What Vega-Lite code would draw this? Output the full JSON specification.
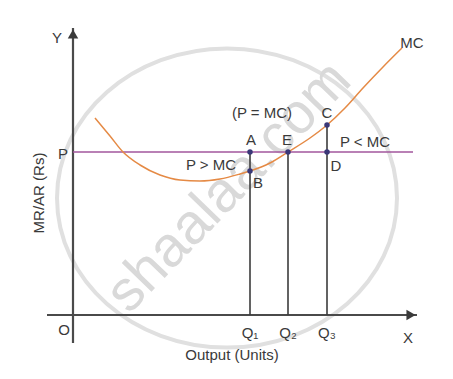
{
  "$schema": "https://vega.github.io/schema/vega-lite/v6.json",
  "width": 453,
  "height": 379,
  "padding": 0,
  "autosize": "none",
  "background": "white",
  "config": {"view": {"stroke": null}},
  "datasets": {
    "mc": [
      {"q": 2.2, "c": 19.7}, {"q": 3.7, "c": 17.9}, {"q": 5.0, "c": 16.3}, {"q": 6.7, "c": 15.0},
      {"q": 8.7, "c": 14.0}, {"q": 10.7, "c": 13.5}, {"q": 12.7, "c": 13.4}, {"q": 14.7, "c": 13.6},
      {"q": 16.7, "c": 14.1}, {"q": 17.7, "c": 14.4}, {"q": 19.7, "c": 15.2}, {"q": 21.5, "c": 16.3},
      {"q": 23.7, "c": 17.7}, {"q": 25.4, "c": 19.0}, {"q": 27.2, "c": 20.7}, {"q": 29.0, "c": 22.7},
      {"q": 31.0, "c": 24.8}, {"q": 32.9, "c": 26.7}
    ],
    "axes": [
      {"x1": -2.6, "x2": 34.4, "y1": 0, "y2": 0},
      {"x1": 0, "x2": 0, "y1": -2.8, "y2": 28.7}
    ],
    "drops": [
      {"q": 17.7, "bottom": 0, "top": 16.3},
      {"q": 21.5, "bottom": 0, "top": 16.3},
      {"q": 25.4, "bottom": 0, "top": 19.0}
    ],
    "dots": [
      {"q": 17.7, "v": 16.3, "name": "A"},
      {"q": 17.7, "v": 14.4, "name": "B"},
      {"q": 21.5, "v": 16.3, "name": "E"},
      {"q": 25.4, "v": 19.0, "name": "C"},
      {"q": 25.4, "v": 16.3, "name": "D"}
    ],
    "labels": [
      {"x": -1.6, "y": 27.7, "t": "Y"},
      {"x": 33.9, "y": 27.2, "t": "MC"},
      {"x": 18.9, "y": 20.2, "t": "(P = MC)"},
      {"x": 25.4, "y": 20.2, "t": "C"},
      {"x": 17.8, "y": 17.5, "t": "A"},
      {"x": 21.4, "y": 17.5, "t": "E"},
      {"x": 29.2, "y": 17.3, "t": "P < MC"},
      {"x": -1.0, "y": 16.1, "t": "P"},
      {"x": 13.8, "y": 15.0, "t": "P > MC"},
      {"x": 18.5, "y": 13.2, "t": "B"},
      {"x": 26.3, "y": 14.9, "t": "D"},
      {"x": -0.9, "y": -1.5, "t": "O"},
      {"x": 17.7, "y": -1.8, "t": "Q₁"},
      {"x": 21.5, "y": -1.8, "t": "Q₂"},
      {"x": 25.4, "y": -1.8, "t": "Q₃"},
      {"x": 33.5, "y": -2.3, "t": "X"},
      {"x": 15.9, "y": -4.0, "t": "Output (Units)"}
    ]
  },
  "layer": [
    {
      "data": {"values": [{"x": 15.4, "y": 11.7}]},
      "mark": {"type": "point", "shape": "M-1,0A1,0.88,0,1,1,1,0A1,0.88,0,1,1,-1,0Z", "size": 115600, "filled": false, "stroke": "#e0e0e0", "strokeWidth": 4, "opacity": 1},
      "encoding": {
        "x": {"field": "x", "type": "quantitative", "scale": {"domain": [-7.3, 38.0], "nice": false, "zero": false}, "axis": null},
        "y": {"field": "y", "type": "quantitative", "scale": {"domain": [-6.4, 31.5], "nice": false, "zero": false}, "axis": null}
      }
    },
    {
      "data": {"values": [{"x": 15.6, "y": 12.8, "t": "shaalaa.com"}]},
      "mark": {"type": "text", "font": "Liberation Sans", "fontSize": 57, "angle": -46, "color": "#d9d9d9", "align": "center", "baseline": "middle"},
      "encoding": {
        "x": {"field": "x", "type": "quantitative"},
        "y": {"field": "y", "type": "quantitative"},
        "text": {"field": "t", "type": "nominal"}
      }
    },
    {
      "data": {"name": "axes"},
      "mark": {"type": "rule", "color": "#4a4a4a", "strokeWidth": 2.2},
      "encoding": {
        "x": {"field": "x1", "type": "quantitative"},
        "x2": {"field": "x2"},
        "y": {"field": "y1", "type": "quantitative"},
        "y2": {"field": "y2"}
      }
    },
    {
      "data": {"values": [{"x": 0, "y": 28.1}]},
      "mark": {"type": "point", "shape": "triangle-up", "filled": true, "color": "#3a3a3a", "size": 110, "opacity": 1},
      "encoding": {
        "x": {"field": "x", "type": "quantitative"},
        "y": {"field": "y", "type": "quantitative"}
      }
    },
    {
      "data": {"values": [{"x": 33.8, "y": 0}]},
      "mark": {"type": "point", "shape": "triangle-right", "filled": true, "color": "#3a3a3a", "size": 110, "opacity": 1},
      "encoding": {
        "x": {"field": "x", "type": "quantitative"},
        "y": {"field": "y", "type": "quantitative"}
      }
    },
    {
      "data": {"values": [{"x1": 0, "x2": 34.0, "p": 16.3}]},
      "mark": {"type": "rule", "color": "#a2569c", "strokeWidth": 1.5},
      "encoding": {
        "x": {"field": "x1", "type": "quantitative"},
        "x2": {"field": "x2"},
        "y": {"field": "p", "type": "quantitative"}
      }
    },
    {
      "data": {"name": "drops"},
      "mark": {"type": "rule", "color": "#3c3c3c", "strokeWidth": 1.6},
      "encoding": {
        "x": {"field": "q", "type": "quantitative"},
        "y": {"field": "bottom", "type": "quantitative"},
        "y2": {"field": "top"}
      }
    },
    {
      "data": {"name": "mc"},
      "mark": {"type": "line", "color": "#e58a45", "strokeWidth": 1.5, "interpolate": "monotone"},
      "encoding": {
        "x": {"field": "q", "type": "quantitative"},
        "y": {"field": "c", "type": "quantitative"}
      }
    },
    {
      "data": {"name": "dots"},
      "mark": {"type": "point", "filled": true, "color": "#3a3878", "size": 30, "opacity": 1},
      "encoding": {
        "x": {"field": "q", "type": "quantitative"},
        "y": {"field": "v", "type": "quantitative"}
      }
    },
    {
      "data": {"name": "labels"},
      "mark": {"type": "text", "font": "Liberation Sans", "fontSize": 15, "color": "#3a3a3a", "align": "center", "baseline": "middle"},
      "encoding": {
        "x": {"field": "x", "type": "quantitative"},
        "y": {"field": "y", "type": "quantitative"},
        "text": {"field": "t", "type": "nominal"}
      }
    },
    {
      "data": {"values": [{"x": -3.4, "y": 12.2, "t": "MR/AR (Rs)"}]},
      "mark": {"type": "text", "font": "Liberation Sans", "fontSize": 15, "angle": 270, "color": "#3a3a3a", "align": "center", "baseline": "middle"},
      "encoding": {
        "x": {"field": "x", "type": "quantitative"},
        "y": {"field": "y", "type": "quantitative"},
        "text": {"field": "t", "type": "nominal"}
      }
    }
  ]
}
